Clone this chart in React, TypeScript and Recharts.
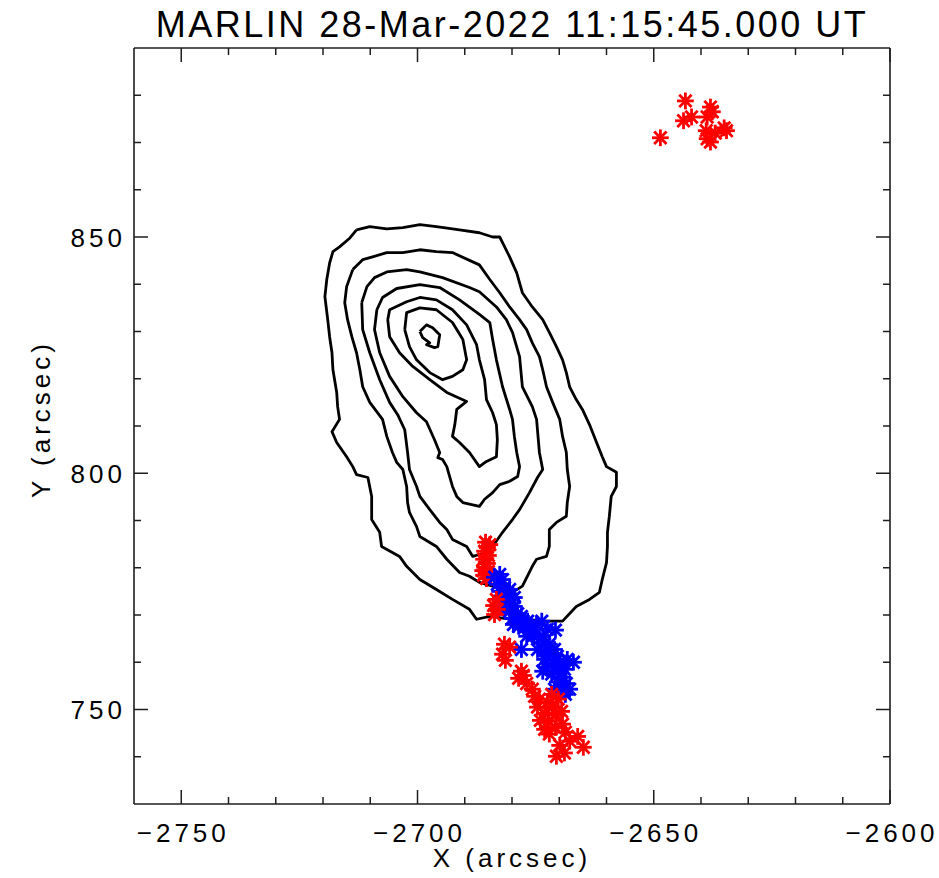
import { ScatterChart, Scatter, XAxis, YAxis } from "recharts";

type Pt = [number, number];

// axis ticks (minor every 10 arcsec, labels every 50)
const xTicks = [-2750, -2740, -2730, -2720, -2710, -2700, -2690, -2680, -2670, -2660, -2650, -2640, -2630, -2620, -2610, -2600];
const yTicks = [740, 750, 760, 770, 780, 790, 800, 810, 820, 830, 840, 850, 860, 870, 880];
const xLabels = [-2750, -2700, -2650, -2600];
const yLabels = [750, 800, 850];

// contour levels, outermost first (arcsec)
const contour1: Pt[] = [
  [-2712.9, 851.5], [-2710.1, 852.2], [-2706.5, 851.7], [-2703.1, 852.0], [-2699.5, 852.6], [-2696.0, 852.2],
  [-2691.1, 851.5], [-2686.9, 850.9], [-2684.1, 850.0], [-2682.6, 850.0], [-2682.0, 848.8], [-2680.5, 845.8],
  [-2679.0, 842.4], [-2677.8, 838.2], [-2675.7, 835.2], [-2673.5, 832.5], [-2672.1, 829.8], [-2670.6, 826.8],
  [-2669.3, 824.0], [-2668.5, 821.3], [-2667.8, 818.3], [-2666.4, 815.6], [-2665.1, 813.5], [-2663.6, 810.3],
  [-2662.1, 806.5], [-2660.9, 803.5], [-2660.0, 801.4], [-2657.9, 800.2], [-2657.9, 797.2], [-2659.0, 795.1],
  [-2659.4, 790.9], [-2659.8, 787.5], [-2659.8, 784.5], [-2660.0, 781.1], [-2660.9, 777.5], [-2661.5, 774.8],
  [-2663.6, 773.3], [-2666.4, 771.8], [-2669.3, 768.7], [-2673.1, 768.7], [-2677.3, 769.1], [-2681.6, 769.3],
  [-2684.7, 769.7], [-2687.5, 769.1], [-2689.0, 771.2], [-2692.6, 773.3], [-2696.0, 775.4], [-2699.5, 777.5],
  [-2702.3, 780.3], [-2703.8, 782.4], [-2707.6, 784.5], [-2708.0, 787.5], [-2709.7, 790.2], [-2709.7, 795.1],
  [-2710.5, 799.1], [-2712.9, 799.7], [-2713.7, 801.4], [-2715.0, 803.5], [-2717.1, 806.5], [-2718.1, 808.8],
  [-2716.5, 811.4], [-2716.9, 814.1], [-2717.1, 817.1], [-2717.9, 821.9], [-2718.1, 825.5], [-2718.6, 828.9],
  [-2719.0, 832.5], [-2719.6, 837.4], [-2719.2, 841.0], [-2718.6, 844.5], [-2717.9, 846.9], [-2716.5, 847.9],
  [-2714.3, 849.8], [-2712.9, 851.5],
];
const contour2: Pt[] = [
  [-2713.7, 843.1], [-2711.6, 845.2], [-2709.5, 845.8], [-2706.5, 846.7], [-2703.1, 846.7], [-2699.5, 847.3],
  [-2696.0, 846.9], [-2692.6, 846.7], [-2686.9, 844.1], [-2684.7, 841.0], [-2682.6, 838.2], [-2680.5, 835.2],
  [-2678.4, 832.5], [-2676.9, 830.4], [-2675.7, 827.6], [-2674.2, 824.7], [-2673.5, 821.9], [-2672.7, 818.3],
  [-2671.4, 815.0], [-2669.9, 811.4], [-2669.3, 807.8], [-2668.5, 804.4], [-2668.3, 800.8], [-2667.8, 797.2],
  [-2668.3, 793.8], [-2668.5, 790.9], [-2670.6, 789.6], [-2672.1, 788.1], [-2672.1, 784.5], [-2672.7, 782.4],
  [-2674.8, 781.8], [-2675.7, 780.3], [-2677.8, 776.1], [-2679.9, 774.8], [-2684.1, 776.1], [-2686.9, 776.9],
  [-2689.0, 778.2], [-2691.1, 779.0], [-2693.8, 781.8], [-2696.0, 784.5], [-2699.5, 786.6], [-2700.2, 788.7],
  [-2701.7, 791.7], [-2702.1, 793.8], [-2702.3, 797.2], [-2703.1, 800.8], [-2704.4, 802.3], [-2705.3, 804.4],
  [-2706.5, 807.8], [-2707.4, 811.4], [-2710.1, 815.0], [-2711.6, 818.3], [-2712.2, 821.9], [-2712.9, 825.5],
  [-2713.9, 828.9], [-2714.8, 832.5], [-2715.4, 836.1], [-2715.0, 839.5], [-2713.7, 843.1],
];
const contour3: Pt[] = [
  [-2711.8, 836.1], [-2710.7, 839.5], [-2709.1, 841.4], [-2706.5, 842.6], [-2702.3, 843.1], [-2699.5, 842.6],
  [-2694.7, 841.4], [-2689.0, 839.3], [-2686.9, 838.4], [-2683.3, 835.2], [-2681.2, 832.5], [-2679.9, 829.8],
  [-2678.4, 824.7], [-2677.8, 818.3], [-2675.7, 814.1], [-2674.8, 811.4], [-2674.2, 804.4], [-2673.5, 800.8],
  [-2674.6, 799.1], [-2676.3, 795.9], [-2678.4, 792.3], [-2679.9, 790.2], [-2682.0, 787.5], [-2684.1, 784.5],
  [-2685.4, 783.2], [-2686.9, 782.8], [-2688.3, 782.4], [-2689.6, 784.5], [-2692.6, 786.0], [-2693.8, 788.1],
  [-2695.3, 789.6], [-2697.4, 792.3], [-2699.5, 795.1], [-2700.2, 797.2], [-2701.7, 800.8], [-2702.1, 804.4],
  [-2702.7, 809.2], [-2704.2, 812.4], [-2705.9, 815.0], [-2708.0, 819.8], [-2710.1, 825.5], [-2711.6, 830.4],
  [-2711.8, 836.1],
];
const contour4: Pt[] = [
  [-2708.6, 834.6], [-2707.4, 837.2], [-2704.4, 839.1], [-2699.5, 839.9], [-2695.3, 839.3], [-2691.1, 836.7],
  [-2686.9, 833.6], [-2684.7, 831.9], [-2684.1, 828.3], [-2683.3, 824.0], [-2682.0, 818.3], [-2680.5, 813.5],
  [-2679.9, 811.4], [-2679.5, 807.8], [-2679.0, 804.4], [-2678.4, 801.4], [-2678.8, 799.3], [-2680.5, 798.3],
  [-2682.6, 797.6], [-2684.1, 795.9], [-2685.8, 794.5], [-2686.9, 793.0], [-2690.4, 793.8], [-2691.7, 795.1],
  [-2692.6, 797.2], [-2693.8, 801.4], [-2694.7, 802.9], [-2695.7, 803.3], [-2695.3, 804.4], [-2696.4, 807.1],
  [-2698.1, 810.9], [-2700.2, 812.8], [-2703.1, 816.2], [-2705.9, 820.5], [-2708.0, 825.5], [-2709.1, 830.4],
  [-2708.6, 834.6],
];
const contour5: Pt[] = [
  [-2706.3, 832.5], [-2705.9, 834.6], [-2702.3, 836.3], [-2699.5, 837.2], [-2696.0, 836.7], [-2692.6, 834.6],
  [-2689.6, 831.4], [-2687.5, 827.2], [-2686.9, 824.0], [-2685.8, 819.8], [-2685.4, 815.6], [-2684.1, 812.8],
  [-2683.3, 810.3], [-2683.1, 807.1], [-2683.3, 803.5], [-2685.4, 802.5], [-2686.9, 801.4], [-2689.0, 804.4],
  [-2691.1, 806.5], [-2692.6, 807.8], [-2692.1, 810.3], [-2691.7, 813.5], [-2689.6, 815.2], [-2693.8, 817.1],
  [-2697.4, 819.8], [-2701.0, 822.6], [-2703.8, 825.5], [-2705.9, 828.9], [-2706.3, 832.5],
];
const contour6: Pt[] = [
  [-2702.7, 830.4], [-2702.3, 834.0], [-2699.5, 835.0], [-2696.0, 834.6], [-2692.6, 831.9], [-2690.4, 828.3],
  [-2689.6, 824.0], [-2690.4, 821.9], [-2692.6, 820.5], [-2694.7, 819.8], [-2697.4, 821.3], [-2700.2, 824.0],
  [-2701.7, 826.8], [-2702.7, 830.4],
];
const contour7: Pt[] = [
  [-2699.5, 830.0], [-2698.1, 831.4], [-2696.8, 830.8], [-2695.3, 829.3], [-2695.7, 826.8], [-2696.4, 826.6],
  [-2698.1, 827.2], [-2697.4, 827.6], [-2698.9, 828.7], [-2699.5, 830.0],
];

// sources
const redCorner: Pt[] = [
  [-2648.6, 871.0], [-2643.3, 878.8], [-2643.7, 874.6], [-2642.0, 875.4], [-2638.0, 877.5], [-2638.7, 875.4],
  [-2637.6, 876.5], [-2638.9, 872.5], [-2638.7, 870.8], [-2638.0, 870.1], [-2637.0, 872.0], [-2635.1, 873.1],
  [-2634.6, 872.5],
];
const redUpper: Pt[] = [
  [-2685.6, 785.4], [-2685.2, 784.3], [-2685.8, 783.5], [-2685.0, 782.6], [-2686.0, 781.8], [-2685.2, 780.9],
  [-2685.8, 780.1], [-2685.0, 779.2], [-2686.0, 778.4], [-2685.4, 777.7], [-2684.7, 784.9], [-2686.2, 779.4],
];
const bluePts: Pt[] = [
  [-2682.6, 778.6], [-2682.0, 777.5], [-2683.1, 776.5], [-2681.6, 775.8], [-2680.9, 774.6], [-2682.2, 773.9],
  [-2680.1, 773.3], [-2681.2, 772.5], [-2679.5, 771.8], [-2680.5, 770.8], [-2678.8, 770.3], [-2679.9, 769.3],
  [-2678.4, 768.7], [-2677.3, 767.4], [-2678.6, 767.6], [-2676.3, 767.0], [-2674.8, 768.0], [-2673.7, 768.7],
  [-2672.5, 767.0], [-2670.8, 766.8], [-2675.4, 765.7], [-2674.2, 764.9], [-2678.0, 762.7], [-2673.1, 763.8],
  [-2674.6, 762.7], [-2672.1, 762.3], [-2673.1, 760.6], [-2671.4, 759.8], [-2670.4, 761.3], [-2667.0, 760.0],
  [-2669.9, 758.5], [-2671.6, 757.5], [-2669.3, 756.8], [-2668.5, 755.5], [-2667.8, 754.3], [-2670.4, 755.8],
  [-2672.7, 758.9], [-2668.7, 753.2], [-2683.7, 778.0], [-2680.5, 775.4], [-2682.6, 775.0], [-2679.5, 773.7],
  [-2681.6, 771.2], [-2678.0, 769.7], [-2679.7, 768.0], [-2676.7, 768.7], [-2675.7, 767.4], [-2676.9, 765.5],
  [-2673.5, 765.5], [-2672.1, 763.8], [-2671.0, 762.7], [-2672.5, 761.3], [-2669.9, 760.0], [-2668.9, 758.5],
  [-2671.0, 754.3], [-2669.5, 754.3], [-2673.5, 758.1], [-2668.3, 760.6],
];
const redLower: Pt[] = [
  [-2683.3, 773.3], [-2683.9, 772.0], [-2683.1, 771.2], [-2683.7, 770.1], [-2681.6, 763.8], [-2680.5, 763.2],
  [-2682.0, 761.7], [-2681.4, 760.4], [-2678.0, 758.1], [-2678.6, 756.6], [-2676.9, 755.5], [-2675.7, 754.3],
  [-2677.6, 757.2], [-2674.2, 752.2], [-2672.5, 751.5], [-2671.4, 750.5], [-2673.1, 749.2], [-2670.6, 748.8],
  [-2672.3, 747.5], [-2670.8, 746.2], [-2674.0, 747.7], [-2669.5, 749.6], [-2674.6, 750.5], [-2670.2, 752.2],
  [-2671.6, 753.2], [-2666.1, 744.3], [-2664.9, 742.0], [-2669.9, 742.4], [-2668.9, 740.8], [-2670.6, 740.1],
  [-2667.8, 743.3], [-2668.7, 745.2], [-2675.2, 752.8], [-2669.3, 746.9], [-2672.1, 744.8], [-2673.1, 745.8],
];

const contours = [contour1, contour2, contour3, contour4, contour5, contour6, contour7];

const INK = "#1e1e1e";
const FONT = "'Liberation Sans', Arial, sans-serif";
const toXY = (pts: Pt[]) => pts.map(([x, y]) => ({ x, y }));
const fmt = (v: number) => String(v).replace("-", "\u2212");

function BottomTick(p: any) {
  const { x, y, payload } = p;
  const major = xLabels.includes(payload.value);
  return (
    <g>
      <line x1={x} y1={y} x2={x} y2={y - (major ? 14 : 7)} stroke={INK} strokeWidth={1.5} />
      {major && (
        <text x={x + 2} y={y + 38} textAnchor="middle" fontFamily={FONT} fontSize={26} letterSpacing={4} fill="#000">
          {fmt(payload.value)}
        </text>
      )}
    </g>
  );
}

function TopTick(p: any) {
  const { x, y, payload } = p;
  const major = xLabels.includes(payload.value);
  return <line x1={x} y1={y} x2={x} y2={y + (major ? 14 : 7)} stroke={INK} strokeWidth={1.5} />;
}

function LeftTick(p: any) {
  const { x, y, payload } = p;
  const major = yLabels.includes(payload.value);
  return (
    <g>
      <line x1={x} y1={y} x2={x + (major ? 14 : 7)} y2={y} stroke={INK} strokeWidth={1.5} />
      {major && (
        <text x={x - 8} y={y + 9.5} textAnchor="end" fontFamily={FONT} fontSize={26} letterSpacing={4} fill="#000">
          {payload.value}
        </text>
      )}
    </g>
  );
}

function RightTick(p: any) {
  const { x, y, payload } = p;
  const major = yLabels.includes(payload.value);
  return <line x1={x} y1={y} x2={x - (major ? 14 : 7)} y2={y} stroke={INK} strokeWidth={1.5} />;
}

const asterisk = (color: string) => (p: any) => {
  const { cx, cy } = p;
  const r = 7;
  const d = 5.2;
  return (
    <g stroke={color} strokeWidth={2.8} strokeLinecap="square">
      <line x1={cx - r} y1={cy} x2={cx + r} y2={cy} />
      <line x1={cx} y1={cy - r} x2={cx} y2={cy + r} />
      <line x1={cx - d} y1={cy - d} x2={cx + d} y2={cy + d} />
      <line x1={cx - d} y1={cy + d} x2={cx + d} y2={cy - d} />
    </g>
  );
};

const axisLine = { stroke: INK, strokeWidth: 1.6 };

export default function App() {
  return (
    <div style={{ position: "absolute", left: 0, top: 0, width: 939, height: 878, background: "#fff" }}>
      <ScatterChart width={939} height={878} margin={{ top: 0, right: 0, bottom: 0, left: 0 }}>
        <XAxis
          xAxisId="b" dataKey="x" type="number" domain={[-2760, -2600]} allowDataOverflow
          ticks={xTicks} interval={0} orientation="bottom" height={74}
          tickSize={0} tickMargin={0} tickLine={false} axisLine={axisLine}
          tick={(p: any) => <BottomTick {...p} />}
        />
        <XAxis
          xAxisId="t" dataKey="x" type="number" domain={[-2760, -2600]} allowDataOverflow
          ticks={xTicks} interval={0} orientation="top" height={48}
          tickSize={0} tickMargin={0} tickLine={false} axisLine={axisLine}
          tick={(p: any) => <TopTick {...p} />}
        />
        <YAxis
          yAxisId="l" dataKey="y" type="number" domain={[730, 890]} allowDataOverflow
          ticks={yTicks} interval={0} orientation="left" width={134}
          tickSize={0} tickMargin={0} tickLine={false} axisLine={axisLine}
          tick={(p: any) => <LeftTick {...p} />}
        />
        <YAxis
          yAxisId="r" dataKey="y" type="number" domain={[730, 890]} allowDataOverflow
          ticks={yTicks} interval={0} orientation="right" width={49}
          tickSize={0} tickMargin={0} tickLine={false} axisLine={axisLine}
          tick={(p: any) => <RightTick {...p} />}
        />
        {contours.map((c, i) => (
          <Scatter
            key={"c" + i}
            data={toXY(c)}
            xAxisId="b"
            yAxisId="l"
            fill="#000"
            line={{ stroke: "#000", strokeWidth: 2.8, strokeLinejoin: "round" }}
            shape={() => <g />}
            isAnimationActive={false}
          />
        ))}
        <Scatter data={toXY(redUpper)} xAxisId="b" yAxisId="l" fill="#ff0000" shape={asterisk("#ff0000")} isAnimationActive={false} />
        <Scatter data={toXY(bluePts)} xAxisId="b" yAxisId="l" fill="#0000ff" shape={asterisk("#0000ff")} isAnimationActive={false} />
        <Scatter data={toXY(redLower)} xAxisId="b" yAxisId="l" fill="#ff0000" shape={asterisk("#ff0000")} isAnimationActive={false} />
        <Scatter data={toXY(redCorner)} xAxisId="b" yAxisId="l" fill="#ff0000" shape={asterisk("#ff0000")} isAnimationActive={false} />
      </ScatterChart>
      <svg width={939} height={878} style={{ position: "absolute", left: 0, top: 0, pointerEvents: "none" }}>
        <text x={512} y={37} textAnchor="middle" fontFamily={FONT} fontSize={36} letterSpacing={2.5} fill="#000">
          MARLIN 28-Mar-2022 11:15:45.000 UT
        </text>
        <text x={512} y={867} textAnchor="middle" fontFamily={FONT} fontSize={26} letterSpacing={4} fill="#000">
          X (arcsec)
        </text>
        <text transform="translate(50,419) rotate(-90)" textAnchor="middle" fontFamily={FONT} fontSize={26} letterSpacing={4} fill="#000">
          Y (arcsec)
        </text>
      </svg>
    </div>
  );
}
